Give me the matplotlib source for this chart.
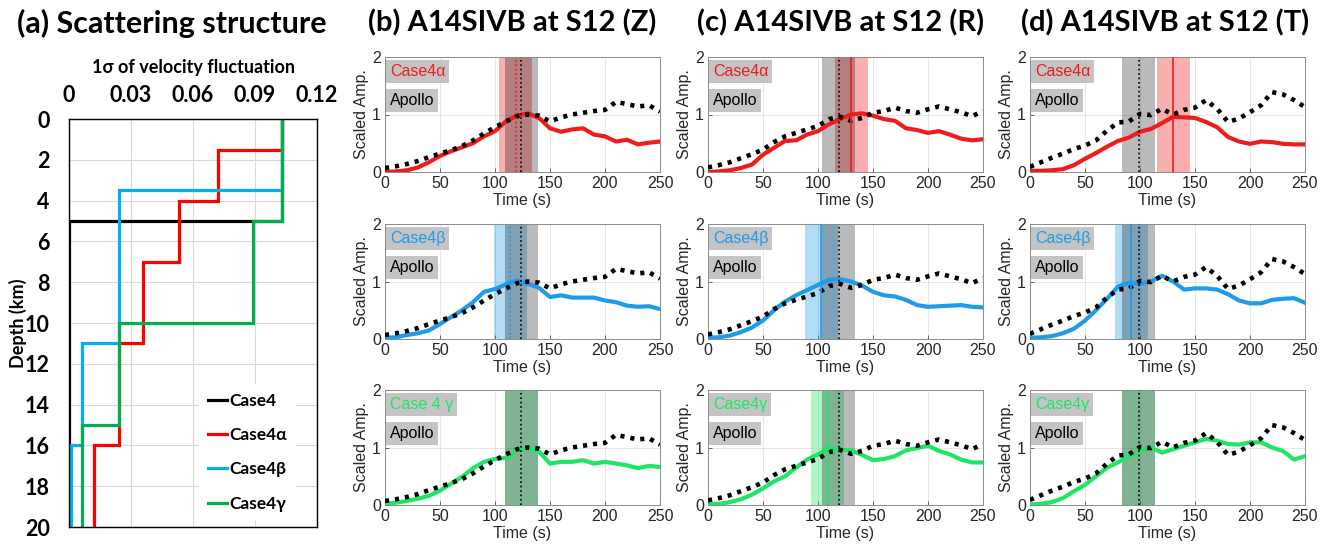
import numpy as np
import matplotlib
matplotlib.use('Agg')
import matplotlib.pyplot as plt

# ---------------- Panel (a) data ----------------
case_names = ['Case4', 'Case4α', 'Case4β', 'Case4γ']
depth_edges_case4 = [0, 5, 20]
sigma_case4 = [0.103, 0.0]
depth_edges_alpha = [0, 1.5, 4, 7, 11, 16, 20]
sigma_alpha = [0.103, 0.072, 0.053, 0.036, 0.024, 0.012]
depth_edges_beta = [0, 3.5, 11, 16, 20]
sigma_beta = [0.103, 0.024, 0.0065, 0.001]
depth_edges_gamma = [0, 5, 10, 15, 20]
sigma_gamma = [0.103, 0.089, 0.024, 0.0065]
sigma_ticks = [0, 0.03, 0.06, 0.09, 0.12]
sigma_tick_labels = ['0', '0.03', '0.06', '0.09', '0.12']
depth_ticks = [0, 2, 4, 6, 8, 10, 12, 14, 16, 18, 20]

# ---------------- Envelope data ----------------
time_s = [0, 10, 20, 30, 40, 50, 60, 70, 80, 90, 100, 110, 120, 130, 140, 150,
          160, 170, 180, 190, 200, 210, 220, 230, 240, 250]
apollo_Z = [0.07, 0.10, 0.14, 0.19, 0.26, 0.32, 0.38, 0.45, 0.55, 0.67, 0.78, 0.88, 0.97,
            1.00, 0.98, 0.88, 0.95, 1.00, 1.03, 1.06, 1.08, 1.22, 1.18, 1.14, 1.16, 1.05]
apollo_R = [0.08, 0.12, 0.17, 0.24, 0.31, 0.39, 0.52, 0.62, 0.68, 0.74, 0.80, 0.92, 0.96,
            0.89, 0.94, 1.03, 1.06, 1.12, 1.06, 1.03, 1.09, 1.14, 1.09, 1.04, 0.97, 1.06]
apollo_T = [0.09, 0.17, 0.25, 0.32, 0.40, 0.46, 0.55, 0.72, 0.86, 0.88, 1.01, 0.99, 1.10,
            1.00, 1.08, 1.12, 1.25, 1.10, 0.87, 0.93, 1.04, 1.16, 1.39, 1.35, 1.25, 1.13]

alpha_Z = [0.00, 0.01, 0.03, 0.08, 0.17, 0.28, 0.36, 0.43, 0.50, 0.62, 0.71, 0.88, 0.98,
           1.02, 0.94, 0.76, 0.70, 0.74, 0.76, 0.65, 0.62, 0.53, 0.56, 0.48, 0.51, 0.53]
alpha_R = [0.00, 0.01, 0.03, 0.07, 0.13, 0.30, 0.42, 0.54, 0.55, 0.65, 0.71, 0.83, 0.92,
           1.00, 1.02, 0.98, 0.92, 0.89, 0.76, 0.73, 0.68, 0.71, 0.65, 0.58, 0.55, 0.57]
alpha_T = [0.02, 0.02, 0.03, 0.05, 0.12, 0.23, 0.33, 0.44, 0.54, 0.60, 0.70, 0.75, 0.85,
           0.96, 0.95, 0.94, 0.87, 0.78, 0.61, 0.53, 0.49, 0.53, 0.52, 0.49, 0.48, 0.48]
beta_Z = [0.02, 0.03, 0.07, 0.10, 0.15, 0.26, 0.38, 0.50, 0.64, 0.82, 0.87, 0.95, 1.02,
          0.96, 0.89, 0.73, 0.76, 0.72, 0.72, 0.72, 0.67, 0.64, 0.58, 0.56, 0.57, 0.52]
beta_R = [0.02, 0.03, 0.06, 0.12, 0.20, 0.32, 0.50, 0.65, 0.76, 0.85, 0.94, 1.03, 1.04,
          1.00, 0.93, 0.82, 0.76, 0.74, 0.68, 0.59, 0.56, 0.57, 0.58, 0.59, 0.56, 0.55]
beta_T = [0.02, 0.03, 0.05, 0.10, 0.18, 0.32, 0.50, 0.70, 0.91, 0.98, 0.96, 1.00, 1.10,
          1.00, 0.86, 0.88, 0.88, 0.86, 0.78, 0.67, 0.62, 0.62, 0.68, 0.70, 0.71, 0.63]
gamma_Z = [0.02, 0.04, 0.07, 0.11, 0.16, 0.25, 0.37, 0.49, 0.64, 0.75, 0.80, 0.82, 0.95,
           0.99, 0.93, 0.72, 0.75, 0.75, 0.78, 0.72, 0.75, 0.72, 0.69, 0.64, 0.68, 0.66]
gamma_R = [0.01, 0.02, 0.05, 0.10, 0.18, 0.29, 0.41, 0.50, 0.65, 0.79, 0.88, 0.99, 0.96,
           0.95, 0.87, 0.78, 0.80, 0.85, 0.95, 0.99, 1.03, 0.94, 0.88, 0.79, 0.74, 0.74]
gamma_T = [0.01, 0.02, 0.05, 0.12, 0.24, 0.35, 0.50, 0.65, 0.74, 0.85, 0.94, 1.00, 0.91,
           0.97, 1.03, 1.09, 1.15, 1.12, 1.06, 1.05, 1.09, 1.09, 1.00, 0.94, 0.79, 0.85]

apollo_peak_time = [124, 119, 99]          # Z, R, T
alpha_peak_time = [119, 130, 130]
beta_peak_time = [114, 103, 92]
gamma_peak_time = [124, 109, 99]
window_half_width = 15

column_titles = ['(b) A14SIVB at S12 (Z)', '(c) A14SIVB at S12 (R)', '(d) A14SIVB at S12 (T)']
row_labels = [['Case4α', 'Case4α', 'Case4α'],
              ['Case4β', 'Case4β', 'Case4β'],
              ['Case 4 γ', 'Case4γ', 'Case4γ']]
time_ticks = [0, 50, 100, 150, 200, 250]
amp_ticks = [0, 1, 2]

# ---------------- Figure ----------------
W, H = 1330, 547
fig = plt.figure(figsize=(W / 100, H / 100), dpi=100, facecolor='white')

def fbox(left, top, right, bottom):
    return [left / W, 1 - bottom / H, (right - left) / W, (bottom - top) / H]

bold_font = ['Lato', 'Open Sans', 'DejaVu Sans']
plain_font = ['Liberation Sans', 'DejaVu Sans']

# ---- Panel (a)
axa = fig.add_axes(fbox(69, 119, 317, 527))
col_a = ['black', '#FF0000', '#00B0F0', '#00B050']
edges_list = [depth_edges_case4, depth_edges_alpha, depth_edges_beta, depth_edges_gamma]
vals_list = [sigma_case4, sigma_alpha, sigma_beta, sigma_gamma]
for name, e, v, c in zip(case_names, edges_list, vals_list, col_a):
    axa.stairs(v, e, orientation='horizontal', baseline=None, color=c, lw=2.3, label=name)
axa.set_xlim(0, 0.12)
axa.set_ylim(20, 0)
axa.xaxis.tick_top()
axa.xaxis.set_label_position('top')
axa.set_xticks(sigma_ticks)
axa.set_xticklabels(sigma_tick_labels)
axa.set_yticks(depth_ticks)
axa.grid(True, color='#D9D9D9', lw=0.8)
axa.set_axisbelow(True)
axa.tick_params(axis='x', length=0, pad=9)
axa.tick_params(axis='y', length=0, pad=14)
for lab in axa.get_xticklabels() + axa.get_yticklabels():
    lab.set_fontfamily(bold_font)
    lab.set_fontweight('bold')
    lab.set_fontsize(15.5)
axa.set_xlabel('1σ of velocity fluctuation', family=bold_font, fontweight='bold', fontsize=13, labelpad=9)
axa.set_ylabel('Depth (km)', family=bold_font, fontweight='bold', fontsize=13, labelpad=-2)
for s in axa.spines.values():
    s.set_color('black')
    s.set_linewidth(1.0)
leg = axa.legend(loc='lower left', bbox_to_anchor=(0.49, -0.005), frameon=True, framealpha=1,
                 edgecolor='none', facecolor='white', handlelength=1.1, handletextpad=0.15,
                 labelspacing=1.05, borderpad=0.5,
                 prop={'family': bold_font, 'weight': 'bold', 'size': 12.5})
leg.get_frame().set_boxstyle('square', pad=0)

fig.text(172 / W, 1 - 23 / H, '(a) Scattering structure', family=bold_font, fontweight='bold',
         fontsize=22, ha='center', va='center')

# ---- Right panels
case_colors = ['#EE1C1C', '#1E9BEB', '#1EE664']
case_series = [[alpha_Z, alpha_R, alpha_T], [beta_Z, beta_R, beta_T], [gamma_Z, gamma_R, gamma_T]]
case_peaks = [alpha_peak_time, beta_peak_time, gamma_peak_time]
apollo_series = [apollo_Z, apollo_R, apollo_T]
col_left = [385, 708, 1030]
col_title_x = [512, 841, 1165]
row_top = [57, 224, 390]
panel_w, panel_h = 275, 115
case_line_style = [':', '-', '-']

for j in range(3):
    fig.text(col_title_x[j] / W, 1 - 23 / H, column_titles[j], family=bold_font,
             fontweight='bold', fontsize=21, ha='center', va='center')
    for i in range(3):
        ax = fig.add_axes(fbox(col_left[j], row_top[i], col_left[j] + panel_w, row_top[i] + panel_h))
        ccol = case_colors[i]
        cp = case_peaks[i][j]
        ap = apollo_peak_time[j]
        ax.axvspan(cp - window_half_width, cp + window_half_width, color=ccol, alpha=0.35, lw=0, zorder=1)
        ax.axvspan(ap - window_half_width, ap + window_half_width, color='black', alpha=0.27, lw=0, zorder=1)
        ax.plot(time_s, case_series[i][j], color=ccol, lw=3.0, zorder=3, solid_joinstyle='round')
        ax.plot(time_s, apollo_series[j], color='black', lw=3.3, linestyle=(0, (0.9, 1.3)), zorder=4)
        if cp != ap:
            ax.axvline(cp, color=ccol, lw=1.2, linestyle=case_line_style[j], zorder=5)
        ax.axvline(ap, color='black', lw=1.2, linestyle=':', zorder=5)
        ax.set_xlim(0, 250)
        ax.set_ylim(0, 2)
        ax.set_xticks(time_ticks)
        ax.set_yticks(amp_ticks)
        ax.grid(True, color='#E6E6E6', lw=0.7, zorder=0)
        ax.set_axisbelow(True)
        ax.tick_params(direction='in', length=3, width=0.6, color='0.3', labelcolor='0.15',
                       labelsize=11.5, pad=3)
        for lab in ax.get_xticklabels() + ax.get_yticklabels():
            lab.set_fontfamily(plain_font)
        for s in ax.spines.values():
            s.set_color('0.55')
            s.set_linewidth(0.7)
        ax.set_ylabel('Scaled Amp.', family=plain_font, fontsize=11.5, color='0.15', labelpad=2)
        ax.set_xlabel('Time (s)', family=plain_font, fontsize=11.5, color='0.15', labelpad=1)
        ax.text(0.018, 0.875, row_labels[i][j], transform=ax.transAxes, color=ccol,
                family=plain_font, fontsize=11.5, va='center', ha='left', zorder=6,
                bbox=dict(boxstyle='square,pad=0.25', fc='#C4C4C4', ec='none'))
        ax.text(0.018, 0.625, 'Apollo', transform=ax.transAxes, color='black',
                family=plain_font, fontsize=11.5, va='center', ha='left', zorder=6,
                bbox=dict(boxstyle='square,pad=0.25', fc='#C4C4C4', ec='none'))

fig.savefig('out.png', dpi=100, facecolor='white')
